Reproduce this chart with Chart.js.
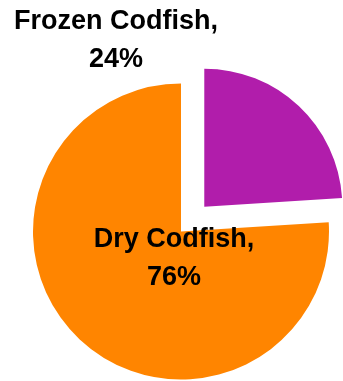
<!DOCTYPE html>
<html>
<head>
<meta charset="utf-8">
<script src="https://cdn.jsdelivr.net/npm/chart.js@4"></script>
<style>
  html, body { margin: 0; padding: 0; background: #fff; }
  #wrap { width: 343px; height: 381px; position: relative; }
</style>
</head>
<body>
<div id="wrap"><canvas id="chart"></canvas></div>
<script>
const categories = ['Frozen Codfish', 'Dry Codfish'];
const shares = [24, 76];
const sliceColors = ['#B11DAB', '#FF8500'];

// the pulled-out slice is drawn a bit smaller, like in Excel
const sliceRadius = [138, 148];
// where each label sits, relative to the pie centre (px)
const labelShift = [[-65, -184], [-7, 34]];

const radiusPlugin = {
  id: 'sliceRadius',
  afterDatasetsUpdate(chart) {
    chart.getDatasetMeta(0).data.forEach((arc, i) => {
      arc.outerRadius = sliceRadius[i];
    });
  }
};

const labelPlugin = {
  id: 'sliceLabels',
  afterDatasetsDraw(chart) {
    const ctx = chart.ctx;
    const meta = chart.getDatasetMeta(0);
    ctx.save();
    ctx.font = 'bold 27px "Liberation Sans", Arial, sans-serif';
    ctx.fillStyle = '#000';
    ctx.textAlign = 'center';
    ctx.textBaseline = 'alphabetic';
    meta.data.forEach((arc, i) => {
      const cx = arc.x + labelShift[i][0];
      const cy = arc.y + labelShift[i][1];
      ctx.fillText(categories[i] + ',', cx, cy - 19);
      ctx.fillText(shares[i] + '%', cx, cy + 19);
    });
    ctx.restore();
  }
};

new Chart(document.getElementById('chart'), {
  type: 'pie',
  data: {
    labels: categories,
    datasets: [{
      data: shares,
      backgroundColor: sliceColors,
      borderWidth: 0,
      // chart.js moves the slice by offset/4
      offset: [136, 0],
      hoverOffset: 0,
      radius: 148,
      clip: false
    }]
  },
  options: {
    responsive: true,
    maintainAspectRatio: false,
    animation: false,
    layout: { padding: { left: 19, right: 0, top: 82, bottom: 0 } },
    plugins: {
      legend: { display: false },
      tooltip: { enabled: false }
    }
  },
  plugins: [radiusPlugin, labelPlugin]
});
</script>
</body>
</html>
